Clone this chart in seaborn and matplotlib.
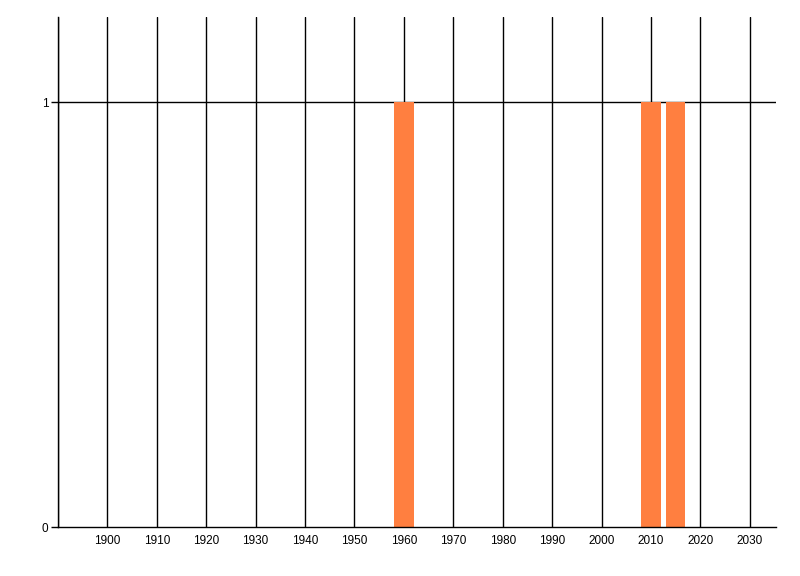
import matplotlib
matplotlib.use("Agg")
import matplotlib.pyplot as plt
import seaborn as sns
import pandas as pd

years = [1960, 2010, 2015]
counts = [1, 1, 1]
x_ticks = list(range(1900, 2031, 10))
y_ticks = [0, 1]

sns.set_style("white")
plt.rcParams['font.family'] = ['Liberation Sans', 'DejaVu Sans']

df = pd.DataFrame({'year': years, 'count': counts})

fig = plt.figure(figsize=(8, 5.76), dpi=100)
ax = fig.add_axes([0.0725, 0.085, 0.8975, 0.8855])

ax.set_xlim(1890, 2035.3)
ax.set_ylim(0, 1.2)

# vertical grid lines
for t in [1890] + x_ticks:
    ax.axvline(t, color='black', lw=1, zorder=0)
ax.axhline(1, color='black', lw=1, zorder=0)

sns.barplot(data=df, x='year', y='count', native_scale=True, width=0.78,
            color='#FF7F40', saturation=1, linewidth=0, ax=ax, zorder=2)

ax.set_xticks(x_ticks)
ax.set_xticklabels([str(t) for t in x_ticks])
ax.set_yticks(y_ticks)
ax.set_yticklabels([str(t) for t in y_ticks])
ax.set_xlim(1890, 2035.3)
ax.set_ylim(0, 1.2)
ax.tick_params(axis='x', length=0, pad=6, labelsize=8.5, labelcolor='black')
ax.tick_params(axis='y', length=5, width=1, left=True, pad=2, labelsize=8.5,
               color='black', labelcolor='black')
ax.set_xlabel('')
ax.set_ylabel('')

for s in ['top', 'right']:
    ax.spines[s].set_visible(False)
for s in ['left', 'bottom']:
    ax.spines[s].set_color('black')
    ax.spines[s].set_linewidth(1)

fig.savefig('out.png', dpi=100)
